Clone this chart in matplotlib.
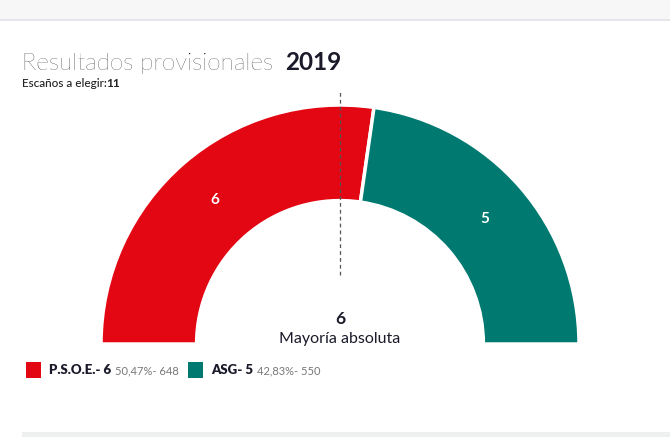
import matplotlib.pyplot as plt
from matplotlib.patches import Rectangle
import numpy as np

plt.rcParams['font.family'] = ['Lato', 'DejaVu Sans']

# Data
parties = ['P.S.O.E.', 'ASG']
seats = [6, 5]
percents = ['50,47%', '42,83%']
votes = [648, 550]
colors = ['#E30613', '#007A70']
total_seats = 11
majority = 6
year = '2019'

W, H = 670, 437
fig = plt.figure(figsize=(W / 100, H / 100), dpi=100)

# background axes in pixel coordinates
bg = fig.add_axes([0, 0, 1, 1])
bg.set_xlim(0, W)
bg.set_ylim(H, 0)
bg.axis('off')

# top bar and bottom strip
bg.add_patch(Rectangle((0, 0), W, 19, color='#f7f7f7', lw=0))
bg.plot([0, W], [19.5, 19.5], color='#e1e1e8', lw=1.2)
bg.add_patch(Rectangle((22, 432), W - 22, 6, color='#eef0f0', lw=0))

fig.canvas.draw()
renderer = fig.canvas.get_renderer()


def after(txt, gap=0):
    # x position (pixel data coords) right after a text object
    bb = txt.get_window_extent(renderer)
    return bb.x1 + gap


t = bg.text(22, 70, 'Resultados provisionales', fontsize=17.5, fontweight='light',
            color='#000000', va='baseline')
bg.text(after(t, 12), 70, year, fontsize=17.5, fontweight='bold', color='#1a1a2a',
        va='baseline')

t = bg.text(22, 87, 'Escaños a elegir:', fontsize=8.5, fontweight='medium',
            color='#222222', va='baseline')
bg.text(after(t, -1), 87, str(total_seats), fontsize=8.5, fontweight='bold',
        color='#222222', va='baseline')

# center texts
bg.text(340, 319, str(majority), fontsize=12.5, fontweight='bold', color='#1a1a2a',
        ha='center', va='center')
bg.text(340, 339, 'Mayoría absoluta', fontsize=11.5, color='#1a1a2a',
        ha='center', va='center')

# legend
x = 26
for p, s, pc, v, c in zip(parties, seats, percents, votes, colors):
    bg.add_patch(Rectangle((x, 362), 15, 16, color=c, lw=0))
    t = bg.text(x + 23, 370, f'{p}- {s}', fontsize=9.5, fontweight='heavy',
                color='#1a1a2a', va='center')
    t2 = bg.text(after(t, 4), 370.5, f'{pc}- {v}', fontsize=8, color='#777777',
                 va='center')
    x = after(t2, 9)

# semicircle (parliament) chart
cx, cy, R = 340, 344, 239
ax = fig.add_axes([(cx - R) / W, (H - cy - R) / H, 2 * R / W, 2 * R / H])
ax.patch.set_alpha(0)
wedges, _ = ax.pie(seats + [total_seats], startangle=180, counterclock=False,
                   colors=colors + ['none'],
                   wedgeprops=dict(width=0.4, edgecolor='white', linewidth=2.5))
wedges[-1].set_edgecolor('none')
ax.set_xlim(-1, 1)
ax.set_ylim(-1, 1)
ax.axis('off')

for w, s in zip(wedges[:-1], seats):
    ang = np.deg2rad((w.theta1 + w.theta2) / 2)
    ax.text(0.8 * np.cos(ang), 0.8 * np.sin(ang), str(s), color='white',
            fontsize=11, fontweight='bold', ha='center', va='center')

ax.plot([0, 0], [(cy - 275) / R, (cy - 90) / R], color='#555555', lw=0.9,
        ls=(0, (3, 2.5)), clip_on=False)

fig.savefig('out.png', dpi=100)
